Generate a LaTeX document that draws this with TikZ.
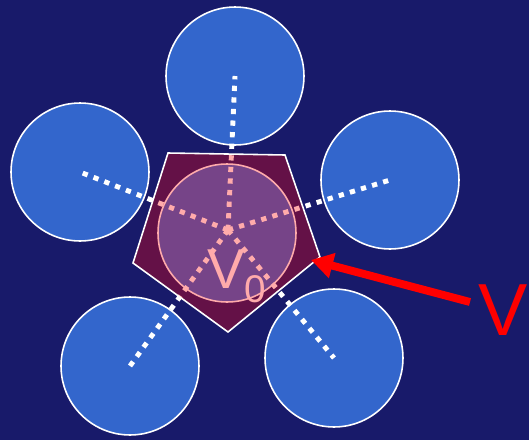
\documentclass[tikz,border=0pt]{standalone}
\usepackage{fontspec}
\setmainfont{Liberation Sans}
\usetikzlibrary{arrows.meta}
\definecolor{skynavy}{HTML}{181A6A}
\definecolor{ballblue}{HTML}{3366CC}
\begin{document}
\begin{tikzpicture}[
    x=0.02cm, y=-0.02cm,
    ball/.style={circle, draw=white, line width=0.9pt, fill=ballblue, minimum size=2.76cm, inner sep=0pt},
    bond/.style={white, line width=2.8pt, dash pattern=on 3pt off 3.6pt},
    cell/.style={draw=white, line width=0.9pt, fill=red, fill opacity=0.33},
    arrow/.style={-{Triangle[length=12.5pt, width=14pt]}, line width=4.5pt, red}
]
    \fill[skynavy] (0,0) rectangle (529,440);
    \useasboundingbox (0,0) rectangle (529,440);

    % neighbours round the central atom
    \node[ball] (top) at (235,76) {};
    \node[ball] (upleft) at (80,172) {};
    \node[ball] (upright) at (390,180) {};
    \node[ball] (lowleft) at (130,366) {};
    \node[ball] (lowright) at (334,358) {};
    \node[ball] (mid) at (227,233) {};

    \coordinate (core) at (228,230);
    \foreach \n in {top,upleft,upright,lowleft,lowright}
        \draw[bond] (core) -- (\n.center);

    \node[white, inner sep=0pt, anchor=base west, font=\fontsize{32}{32}\selectfont] (vzero) at (207,288)
        {V\raisebox{-8pt}{\fontsize{22}{22}\selectfont 0}};

    % the cell round the central atom
    \draw[cell] (168,153) -- (285,155) -- (320,257) -- (228,332) -- (133,263) -- cycle;

    \node[red, inner sep=0pt, anchor=base west, font=\fontsize{42}{42}\selectfont] (vlabel) at (478,335) {V};
    \coordinate (tail) at (470,302);
    \coordinate (tip) at (311,260);
    \draw[arrow] (tail) -- (tip);
\end{tikzpicture}
\end{document}
